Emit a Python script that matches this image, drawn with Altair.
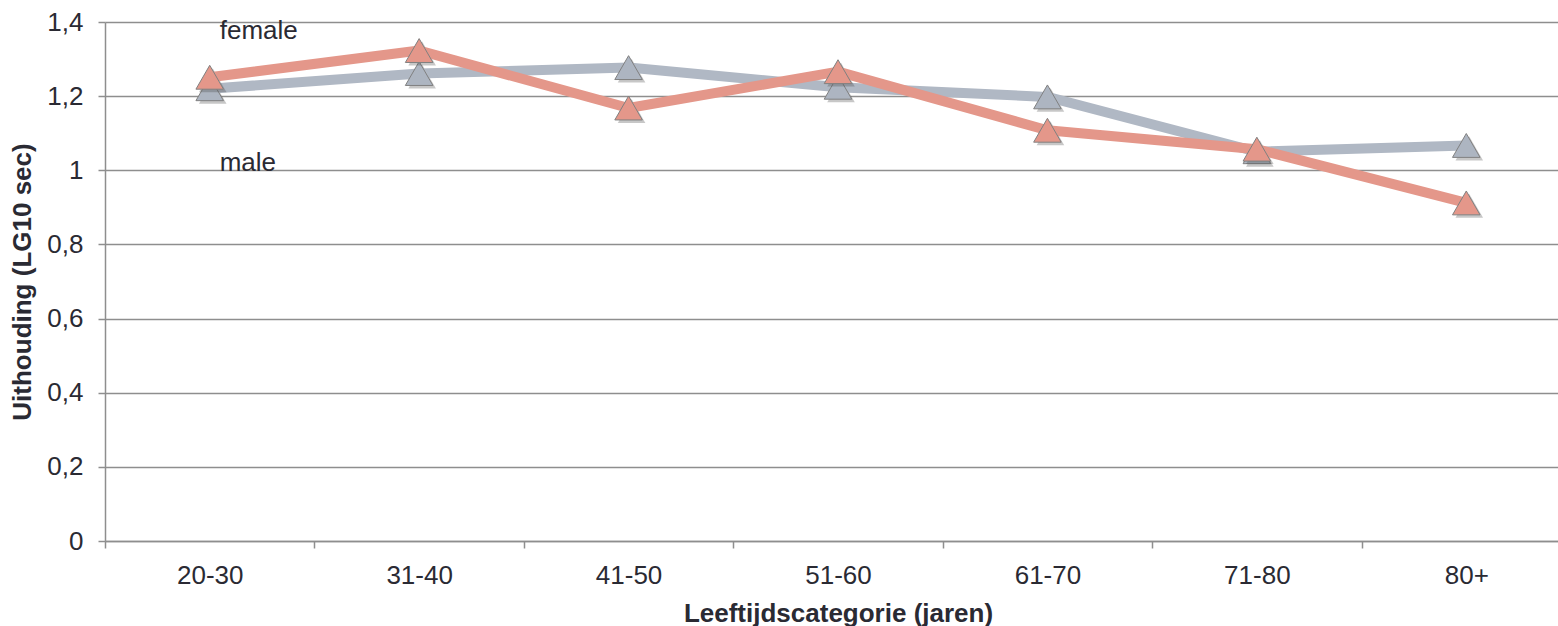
import altair as alt
import pandas as pd

categories = ["20-30", "31-40", "41-50", "51-60", "61-70", "71-80", "80+"]
grey_values = [1.220, 1.261, 1.277, 1.224, 1.198, 1.050, 1.067]
red_values = [1.251, 1.323, 1.168, 1.266, 1.108, 1.057, 0.912]
y_ticks = [0, 0.2, 0.4, 0.6, 0.8, 1.0, 1.2, 1.4]
label_texts = ["female", "male"]
label_cats = ["20-30", "20-30"]
label_y = [1.375, 1.019]

grey_df = pd.DataFrame({"cat": categories, "val": grey_values})
red_df = pd.DataFrame({"cat": categories, "val": red_values})
lab_df = pd.DataFrame({"cat": label_cats, "val": label_y, "txt": label_texts})

TEXT = "#2a2a33"
FONT = "Liberation Sans"
FS = 26

x_enc = alt.X(
    "cat:N",
    sort=categories,
    scale=alt.Scale(type="band", domain=categories, range=[0, 1466], paddingInner=0, paddingOuter=0),
    axis=alt.Axis(
        title="Leeftijdscategorie (jaren)",
        tickBand="extent",
        grid=False,
        domainColor="#8e8e8e",
        domainWidth=1.5,
        tickColor="#8e8e8e",
        tickWidth=1.5,
        tickSize=7,
        labelPadding=35,
        labelBaseline="alphabetic",
        labelAngle=0,
        labelFont=FONT,
        labelFontSize=FS,
        labelColor=TEXT,
        titleFont=FONT,
        titleFontSize=FS,
        titleFontWeight="bold",
        titleColor=TEXT,
        titleBaseline="alphabetic",
        titleY=80,
    ),
)

y_enc = alt.Y(
    "val:Q",
    scale=alt.Scale(domain=[0, 1.4], nice=False, zero=True),
    axis=alt.Axis(
        title="Uithouding (LG10 sec)",
        values=y_ticks,
        labelExpr="replace(format(datum.value, '~g'), '.', ',')",
        grid=True,
        gridColor="#8e8e8e",
        gridWidth=1.5,
        domainColor="#8e8e8e",
        domainWidth=1.5,
        tickColor="#8e8e8e",
        tickWidth=1.5,
        tickSize=7,
        labelPadding=15,
        labelFont=FONT,
        labelFontSize=FS,
        labelColor=TEXT,
        titleFont=FONT,
        titleFontSize=FS,
        titleFontWeight="bold",
        titleColor=TEXT,
        titleX=-83,
        titleBaseline="middle",
    ),
)


def series_layers(df, line_color, fill_color):
    base = alt.Chart(df).encode(x=x_enc, y=y_enc)
    shadow = base.mark_point(
        shape="triangle-up", size=760, filled=True, color="#444444", opacity=0.3,
        xOffset=3, yOffset=3,
    )
    line = base.mark_line(color=line_color, strokeWidth=10, strokeJoin="round")
    pts = base.mark_point(
        shape="triangle-up", size=760, filled=True, fill=fill_color, opacity=1,
        stroke="#808080", strokeWidth=1,
    )
    return [shadow, line, pts]


layers = series_layers(grey_df, "#b0b8c4", "#adb5c1") + series_layers(red_df, "#e4978a", "#e4978a")

labels = alt.Chart(lab_df).mark_text(
    align="left", baseline="middle", dx=10, font=FONT, fontSize=FS, color=TEXT
).encode(x=x_enc, y=y_enc, text="txt:N")

chart = alt.layer(*layers, labels).properties(
    width=1453,
    height=519,
    padding={"left": 105, "top": 22, "right": 0, "bottom": 85},
    autosize=alt.AutoSizeParams(type="none"),
    background="white",
).configure_view(stroke=None)

chart.save("out.html", embed_options={"renderer": "svg", "actions": False})
